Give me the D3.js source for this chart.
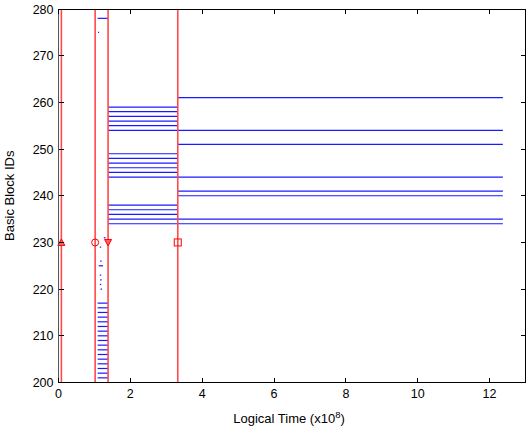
<!DOCTYPE html>
<html>
<head>
<meta charset="utf-8">
<script src="https://cdn.jsdelivr.net/npm/d3@7"></script>
<style>
  html, body { margin: 0; padding: 0; background: #fff; }
  svg { display: block; }
  text { font-family: "Liberation Sans", Arial, sans-serif; }
</style>
</head>
<body>
<div id="chart"></div>
<script>
// ---- data ----
const xTicks = [0, 2, 4, 6, 8, 10, 12];
const yTicks = [200, 210, 220, 230, 240, 250, 260, 270, 280];
const xDomain = [0, 13];
const yDomain = [200, 280];

// phase boundaries (logical time, x10^8)
const phaseBounds = [0.08, 1.02, 1.38, 3.32];
const markerShapes = ["triangleUp", "circle", "triangleDown", "square"];
const markerY = 230;

// phase 1 segments (between 1.09 and 1.38)
const phase1Start = 1.09, phase1End = 1.38;
const phase1Ids = [278, 217, 216, 215, 214, 213, 212, 211, 210, 209, 208, 207, 206, 205, 204, 203, 202, 201];
// short dashes in phase 1
const dashIds = [275, 231, 229, 226, 225, 223, 222, 221, 220];
const dashStart = [1.10, 1.26, 1.15, 1.16, 1.12, 1.15, 1.16, 1.15, 1.17];
const dashEnd   = [1.13, 1.31, 1.19, 1.20, 1.24, 1.19, 1.20, 1.19, 1.21];

// phase 2 segments (1.38 -> 3.32)
const phase2Start = 1.38, phase2End = 3.32;
const phase2Ids = [259, 258, 257, 256, 255, 249, 248, 247, 246, 245, 238, 237, 236];

// long segments
const longEnd = 12.37;
const long1Ids = [254, 244, 235, 234];       // start at 1.38
const long2Ids = [261, 251, 241, 240];       // start at 3.32

// ---- layout ----
const W = 527, H = 432;
const m = { left: 58.5, right: 1.5, top: 9, bottom: 49.5 };

const svg = d3.select("#chart").append("svg").attr("width", W).attr("height", H);

const x = d3.scaleLinear().domain(xDomain).range([m.left, W - m.right]);
const y = d3.scaleLinear().domain(yDomain).range([H - m.bottom, m.top]);

const g = svg.append("g");

// segments
const segs = [];
phase1Ids.forEach(id => segs.push({ id, a: phase1Start, b: phase1End }));
dashIds.forEach((id, i) => segs.push({ id, a: dashStart[i], b: dashEnd[i] }));
phase2Ids.forEach(id => segs.push({ id, a: phase2Start, b: phase2End }));
long1Ids.forEach(id => segs.push({ id, a: phase2Start, b: longEnd }));
long2Ids.forEach(id => segs.push({ id, a: phase2End, b: longEnd }));

g.selectAll("line.seg").data(segs).enter().append("line")
  .attr("class", "seg")
  .attr("x1", d => x(d.a)).attr("x2", d => x(d.b))
  .attr("y1", d => y(d.id)).attr("y2", d => y(d.id))
  .attr("stroke", "#1a1aff").attr("stroke-width", 1.2);

// red phase lines
g.selectAll("line.phase").data(phaseBounds).enter().append("line")
  .attr("class", "phase")
  .attr("x1", d => x(d)).attr("x2", d => x(d))
  .attr("y1", y(yDomain[0])).attr("y2", y(yDomain[1]))
  .attr("stroke", "#ff4a4a").attr("stroke-width", 1.6);

// markers
const mk = g.selectAll("g.mk").data(phaseBounds.map((v, i) => ({ v, s: markerShapes[i] })))
  .enter().append("g").attr("class", "mk")
  .attr("transform", d => `translate(${x(d.v)},${y(markerY)})`);
mk.each(function(d) {
  const s = d3.select(this);
  let el;
  if (d.s === "triangleUp") el = s.append("path").attr("d", "M0,-3.5L3.5,3L-3.5,3Z").attr("fill", "#ff6060");
  else if (d.s === "triangleDown") el = s.append("path").attr("d", "M0,3.5L3.5,-3L-3.5,-3Z").attr("fill", "#ff6060");
  else if (d.s === "circle") el = s.append("circle").attr("r", 3.5).attr("fill", "none");
  else el = s.append("rect").attr("x", -3.5).attr("y", -3.5).attr("width", 7).attr("height", 7).attr("fill", "none");
  el.attr("stroke", "#ff0000").attr("stroke-width", 1);
});

// axes (MATLAB style, ticks inward, box)
const axColor = "#000";
const x0 = x(xDomain[0]), x1 = x(xDomain[1]);
const y0 = y(yDomain[0]), y1 = y(yDomain[1]);
const tk = 5;

const ax = svg.append("g").attr("shape-rendering", "crispEdges");
ax.append("rect").attr("x", x0).attr("y", y1).attr("width", x1 - x0).attr("height", y0 - y1)
  .attr("fill", "none").attr("stroke", axColor).attr("stroke-width", 1);
ax.append("line").attr("x1", x0).attr("x2", x0).attr("y1", y1).attr("y2", y0)
  .attr("stroke", "#555").attr("stroke-width", 1.5);

xTicks.forEach(t => {
  ax.append("line").attr("x1", x(t)).attr("x2", x(t)).attr("y1", y0).attr("y2", y0 - tk).attr("stroke", axColor);
  ax.append("line").attr("x1", x(t)).attr("x2", x(t)).attr("y1", y1).attr("y2", y1 + tk).attr("stroke", axColor);
});
yTicks.forEach(t => {
  ax.append("line").attr("x1", x0).attr("x2", x0 + tk).attr("y1", y(t)).attr("y2", y(t)).attr("stroke", axColor);
  ax.append("line").attr("x1", x1).attr("x2", x1 - tk).attr("y1", y(t)).attr("y2", y(t)).attr("stroke", axColor);
});

svg.append("g").selectAll("text").data(xTicks).enter().append("text")
  .attr("x", d => x(d)).attr("y", y0 + 15)
  .attr("text-anchor", "middle").attr("font-size", 12.5).attr("fill", "#000")
  .text(d => d);
svg.append("g").selectAll("text").data(yTicks).enter().append("text")
  .attr("x", x0 - 5).attr("y", d => y(d) + 4.5)
  .attr("text-anchor", "end").attr("font-size", 12.5).attr("fill", "#000")
  .text(d => d);

// labels
const xl = svg.append("text").attr("x", (x0 + x1) / 2 - 3).attr("y", 423)
  .attr("text-anchor", "middle").attr("font-size", 13).attr("fill", "#000");
xl.append("tspan").text("Logical Time (x10");
xl.append("tspan").attr("dy", -5).attr("font-size", 9.5).text("8");
xl.append("tspan").attr("dy", 5).text(")");

svg.append("text").attr("transform", `translate(14,${(y0 + y1) / 2}) rotate(-90)`)
  .attr("text-anchor", "middle").attr("font-size", 13).attr("fill", "#000")
  .text("Basic Block IDs");
</script>
</body>
</html>
